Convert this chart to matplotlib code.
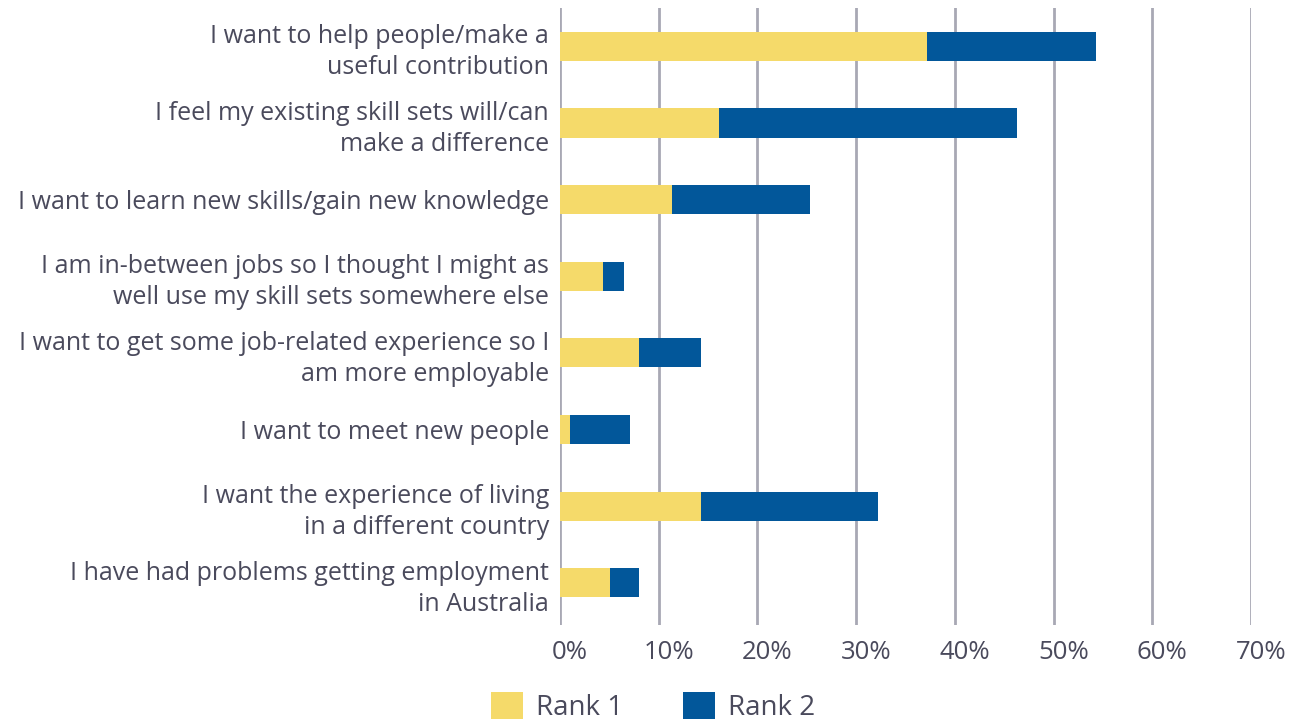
import matplotlib
matplotlib.use("Agg")
import matplotlib.pyplot as plt
from matplotlib.patches import Patch
from matplotlib.transforms import ScaledTranslation

plt.rcParams['font.family'] = ['Open Sans', 'DejaVu Sans']

categories = [
    "I want to help people/make a\nuseful contribution",
    "I feel my existing skill sets will/can\nmake a difference",
    "I want to learn new skills/gain new knowledge",
    "I am in-between jobs so I thought I might as\nwell use my skill sets somewhere else",
    "I want to get some job-related experience so I\nam more employable",
    "I want to meet new people",
    "I want the experience of living\nin a different country",
    "I have had problems getting employment\nin Australia",
]
rank1 = [37.2, 16.1, 11.3, 4.4, 8.0, 1.0, 14.3, 5.1]
rank2 = [17.1, 30.2, 14.0, 2.1, 6.3, 6.1, 17.9, 2.9]
xticks = [0, 10, 20, 30, 40, 50, 60, 70]
xticklabels = ["0%", "10%", "20%", "30%", "40%", "50%", "60%", "70%"]

YELLOW = "#F5DA6A"
BLUE = "#02579A"
TEXT = "#4a4a5c"
GRID = "#a8a8b4"

fig = plt.figure(figsize=(13.06, 7.27), dpi=100)
ax = fig.add_axes([0.4288, 0.1403, 0.9579 - 0.4288, 0.989 - 0.1403])

y = list(range(len(categories)))
ax.barh(y, rank1, height=0.38, color=YELLOW, label="Rank 1", zorder=3)
ax.barh(y, rank2, left=rank1, height=0.38, color=BLUE, label="Rank 2", zorder=3)

ax.set_xlim(0, 70)
ax.set_ylim(len(categories) - 0.45, -0.5)
ax.set_xticks(xticks)
ax.set_xticklabels(xticklabels, fontsize=18.5)
ax.set_yticks(y)
ax.set_yticklabels(categories, linespacing=1.3, fontsize=18)
ax.tick_params(axis='both', length=0, colors=TEXT)
ax.tick_params(axis='y', pad=8)
ax.tick_params(axis='x', pad=11)
for lab in ax.get_yticklabels():
    lab.set_horizontalalignment('right')
    lab.set_multialignment('right')
# percentage labels sit slightly right of their gridlines
shift = ScaledTranslation(10 / 100, 0, fig.dpi_scale_trans)
for lab in ax.get_xticklabels():
    lab.set_transform(lab.get_transform() + shift)

for s in ax.spines.values():
    s.set_visible(False)
ax.grid(axis='x', color=GRID, linewidth=2.0, zorder=0)
ax.set_axisbelow(True)

handles = [Patch(facecolor=YELLOW, edgecolor='none'), Patch(facecolor=BLUE, edgecolor='none')]
fig.legend(handles, ["Rank 1", "Rank 2"], loc='center', bbox_to_anchor=(0.5, 0.028),
           ncol=2, frameon=False, handlelength=1.15, handleheight=1.15,
           columnspacing=2.13, handletextpad=0.49, fontsize=20, labelcolor=TEXT,
           borderaxespad=0)

fig.savefig("out.png", dpi=100)
